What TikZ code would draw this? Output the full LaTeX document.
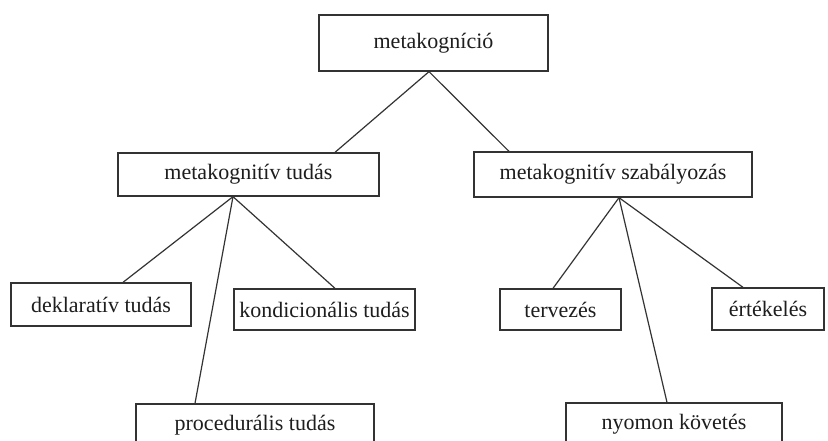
\documentclass[tikz,border=0pt]{standalone}
\usepackage{fontspec}
\setmainfont{Liberation Serif}
\definecolor{edge}{HTML}{333333}
\definecolor{ink}{HTML}{1E1E1E}
\begin{document}
\begin{tikzpicture}[x=1pt,y=-1pt,
  box/.style={draw=edge,line width=1.3pt,rectangle,inner sep=0pt,anchor=center,
    text=ink,font=\fontsize{22}{26}\selectfont},
  conn/.style={draw=edge,line width=1.2pt}]
\useasboundingbox[fill=white] (0,0) rectangle (828,441);
\begin{scope}
\clip (0,0) rectangle (828,441);
\node[box,minimum width=229pt,minimum height=56pt] (top) at (433.5,43) {metakogníció};
\node[box,minimum width=261pt,minimum height=43pt] (mt) at (248.5,174.5) {metakognitív tudás};
\node[box,minimum width=278pt,minimum height=45pt] (msz) at (613,174.5) {metakognitív szabályozás};
\node[box,minimum width=180pt,minimum height=43pt] (dek) at (101,304.5) {deklaratív tudás};
\node[box,minimum width=181pt,minimum height=41pt] (kond) at (324.5,309.5) {kondicionális tudás};
\node[box,minimum width=121pt,minimum height=41pt] (terv) at (560.5,309.5) {tervezés};
\node[box,minimum width=112pt,minimum height=42pt] (ert) at (768,309) {értékelés};
\node[box,minimum width=238pt,minimum height=43pt] (proc) at (255,425.5) {procedurális tudás};
\node[box,minimum width=216pt,minimum height=43pt] (nyom) at (674,424.5) {nyomon követés};
\draw[conn] ([xshift=-4.5pt]top.south) -- ([xshift=86.5pt]mt.north);
\draw[conn] ([xshift=-4.5pt]top.south) -- ([xshift=-104pt]msz.north);
\draw[conn] ([xshift=-15.5pt]mt.south) -- ([xshift=22pt]dek.north);
\draw[conn] ([xshift=-15.5pt]mt.south) -- ([xshift=10.5pt]kond.north);
\draw[conn] ([xshift=-15.5pt]mt.south) -- ([xshift=-60pt]proc.north);
\draw[conn] ([xshift=6pt]msz.south) -- ([xshift=-7.5pt]terv.north);
\draw[conn] ([xshift=6pt]msz.south) -- ([xshift=-25pt]ert.north);
\draw[conn] ([xshift=6pt]msz.south) -- ([xshift=-7pt]nyom.north);
\end{scope}
\end{tikzpicture}
\end{document}
